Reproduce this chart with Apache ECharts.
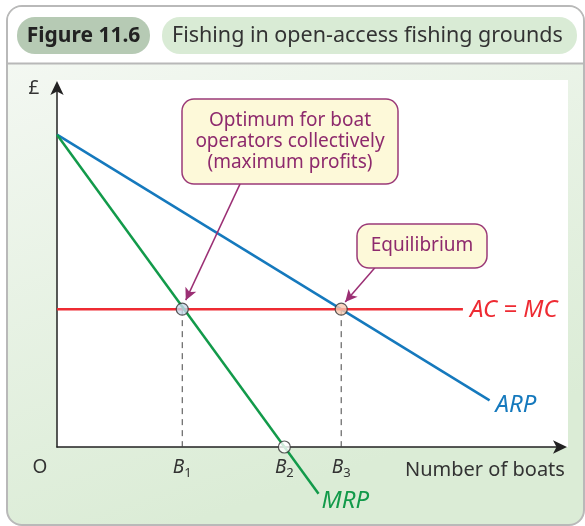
<!DOCTYPE html>
<html>
<head>
<meta charset="utf-8">
<script src="https://cdn.jsdelivr.net/npm/echarts@6/dist/echarts.min.js"></script>
<style>
  html, body { margin: 0; padding: 0; background: #fff; }
  #main { width: 585px; height: 526px; }
</style>
</head>
<body>
<div id="main"></div>
<script>
// values (x: number of boats, y: £), scale 0..100
var tickValues = [0, 24.9, 45.2, 56.5];
var tickLabels = ['O', 'B1', 'B2', 'B3'];

var arpX = [0, 86];
var arpY = [87, 13];
var mrpX = [0, 52];
var mrpY = [87, -13];
var acX = [0, 80.7];
var acY = [38.4, 38.4];

var pointX = [24.9, 56.5, 45.2];
var pointY = [38.4, 38.4, 0];
var pointFill = ['#c9d9eb', '#f8cbb2', '#ffffff'];

var arrow1 = [[36.4, 73.3], [25.6, 40.9]];
var arrow2 = [[63.2, 49.9], [57.3, 40.4]];

var FONT = '"Noto Sans", "Open Sans", sans-serif';

function pairs(xs, ys) {
    return xs.map(function (x, i) { return [x, ys[i]]; });
}

var chart = echarts.init(document.getElementById('main'));

chart.setOption({
    animation: false,
    textStyle: { fontFamily: FONT },
    grid: { left: 57, top: 88, width: 503, height: 359, containLabel: false },
    xAxis: {
        type: 'value',
        min: 0,
        max: 100,
        splitLine: { show: false },
        axisTick: { show: false },
        axisLine: {
            show: true,
            symbol: ['none', 'arrow'],
            symbolSize: [10, 14],
            symbolOffset: [0, 7],
            lineStyle: { color: '#222', width: 1.5 }
        },
        axisLabel: {
            customValues: tickValues,
            margin: 11,
            color: '#333',
            formatter: function (v) {
                var i = tickValues.indexOf(v);
                var t = tickLabels[i] || '';
                if (t === 'O') return '{o|O}';
                return '{b|' + t.charAt(0) + '}{s|' + t.slice(1) + '}';
            },
            rich: {
                o: { fontSize: 19, color: '#333', padding: [0, 34, 0, 0], lineHeight: 26, verticalAlign: 'top', fontFamily: FONT },
                b: { fontSize: 19, color: '#333', fontStyle: 'italic', lineHeight: 22, verticalAlign: 'top', fontFamily: FONT },
                s: { fontSize: 13, color: '#333', lineHeight: 13, verticalAlign: 'bottom', padding: [13, 0, 0, 0], fontFamily: FONT }
            }
        }
    },
    yAxis: {
        type: 'value',
        min: 0,
        max: 100,
        splitLine: { show: false },
        axisTick: { show: false },
        axisLabel: { show: false },
        axisLine: {
            show: true,
            symbol: ['none', 'arrow'],
            symbolSize: [10, 14],
            symbolOffset: [0, 7],
            lineStyle: { color: '#222', width: 1.5 }
        }
    },
    graphic: [
        // frame + header
        { type: 'rect', z: -10, shape: { x: 7, y: 6, width: 577, height: 519, r: 15 },
          style: { fill: new echarts.graphic.LinearGradient(0, 0, 0.3, 1, [
              { offset: 0, color: '#f6f9f5' }, { offset: 1, color: '#dbecd6' }]),
              stroke: '#b9b9b9', lineWidth: 2 } },
        { type: 'rect', z: -9, shape: { x: 8, y: 7, width: 575, height: 56, r: [14, 14, 0, 0] },
          style: { fill: '#ffffff' } },
        { type: 'line', z: -8, shape: { x1: 7, y1: 63.5, x2: 584, y2: 63.5 },
          style: { stroke: '#b8b8b8', lineWidth: 2 } },
        { type: 'rect', z: -8, shape: { x: 17, y: 17, width: 133, height: 37, r: 18 },
          style: { fill: '#b6cab4' } },
        { type: 'text', z: -7, x: 83.5, y: 36,
          style: { text: 'Figure 11.6', font: 'bold 21px ' + FONT, fill: '#222', align: 'center', verticalAlign: 'middle' } },
        { type: 'rect', z: -8, shape: { x: 162, y: 17, width: 415, height: 37, r: 18 },
          style: { fill: '#d9ebd5' } },
        { type: 'text', z: -7, x: 172, y: 36,
          style: { text: 'Fishing in open-access fishing grounds', font: '21.5px ' + FONT, fill: '#333', align: 'left', verticalAlign: 'middle' } },
        // white plot panel
        { type: 'rect', z: -8, shape: { x: 57, y: 80, width: 511, height: 367 },
          style: { fill: '#ffffff' } },
        { type: 'text', z: 5, x: 34, y: 89,
          style: { text: '£', font: '19px ' + FONT, fill: '#333', align: 'center', verticalAlign: 'middle' } },
        { type: 'text', z: 5, x: 405, y: 470,
          style: { text: 'Number of boats', font: '20px ' + FONT, fill: '#333', align: 'left', verticalAlign: 'middle' } },
        // annotation boxes
        { type: 'rect', z: 50, shape: { x: 182, y: 99, width: 216, height: 85, r: 12 },
          style: { fill: '#fdf9d9', stroke: '#9b3a78', lineWidth: 1.5 } },
        { type: 'text', z: 51, x: 290, y: 142,
          style: { text: 'Optimum for boat\noperators collectively\n(maximum profits)', font: '19px ' + FONT,
                   lineHeight: 21, fill: '#8e2a6d', align: 'center', verticalAlign: 'middle' } },
        { type: 'rect', z: 50, shape: { x: 357, y: 224, width: 130, height: 44, r: 12 },
          style: { fill: '#fdf9d9', stroke: '#9b3a78', lineWidth: 1.5 } },
        { type: 'text', z: 51, x: 422, y: 246,
          style: { text: 'Equilibrium', font: '19px ' + FONT, fill: '#8e2a6d', align: 'center', verticalAlign: 'middle' } }
    ],
    series: [
        {
            name: 'dash1', type: 'line', silent: true, showSymbol: false, z: 1,
            data: [[pointX[0], pointY[0]], [pointX[0], 0]],
            lineStyle: { color: '#444', width: 1, type: [6, 5] }
        },
        {
            name: 'dash3', type: 'line', silent: true, showSymbol: false, z: 1,
            data: [[pointX[1], pointY[1]], [pointX[1], 0]],
            lineStyle: { color: '#444', width: 1, type: [6, 5] }
        },
        {
            name: 'ARP', type: 'line', silent: true, showSymbol: false, clip: false,
            data: pairs(arpX, arpY),
            lineStyle: { color: '#1579bd', width: 2.5 },
            endLabel: { show: true, formatter: 'ARP', color: '#1579bd', fontSize: 24, fontStyle: 'italic',
                        fontFamily: FONT, distance: 6, offset: [0, 5] }
        },
        {
            name: 'AC', type: 'line', silent: true, showSymbol: false, clip: false,
            data: pairs(acX, acY),
            lineStyle: { color: '#ee2b33', width: 2.5 },
            endLabel: { show: true, formatter: 'AC = MC', color: '#ee2b33', fontSize: 24, fontStyle: 'italic',
                        fontFamily: FONT, distance: 7, offset: [0, 1] }
        },
        {
            name: 'MRP', type: 'line', silent: true, showSymbol: false, clip: false,
            data: pairs(mrpX, mrpY),
            lineStyle: { color: '#129a4a', width: 2.5 },
            endLabel: { show: true, formatter: 'MRP', color: '#129a4a', fontSize: 24, fontStyle: 'italic',
                        fontFamily: FONT, distance: 3, offset: [0, 7] }
        },
        {
            name: 'arrows', type: 'line', silent: true, data: [], z: 20,
            markLine: {
                silent: true,
                symbol: ['none', 'arrow'],
                symbolSize: [9, 12],
                label: { show: false },
                lineStyle: { color: '#9b2f74', width: 1.5, type: 'solid' },
                data: [
                    [{ coord: arrow1[0] }, { coord: arrow1[1] }],
                    [{ coord: arrow2[0] }, { coord: arrow2[1] }]
                ]
            }
        },
        {
            name: 'points', type: 'scatter', silent: true, z: 30, clip: false,
            symbolSize: 12,
            data: pointX.map(function (x, i) {
                return { value: [x, pointY[i]], itemStyle: { color: pointFill[i], borderColor: '#333', borderWidth: 1.2 } };
            })
        }
    ]
});
</script>
</body>
</html>
